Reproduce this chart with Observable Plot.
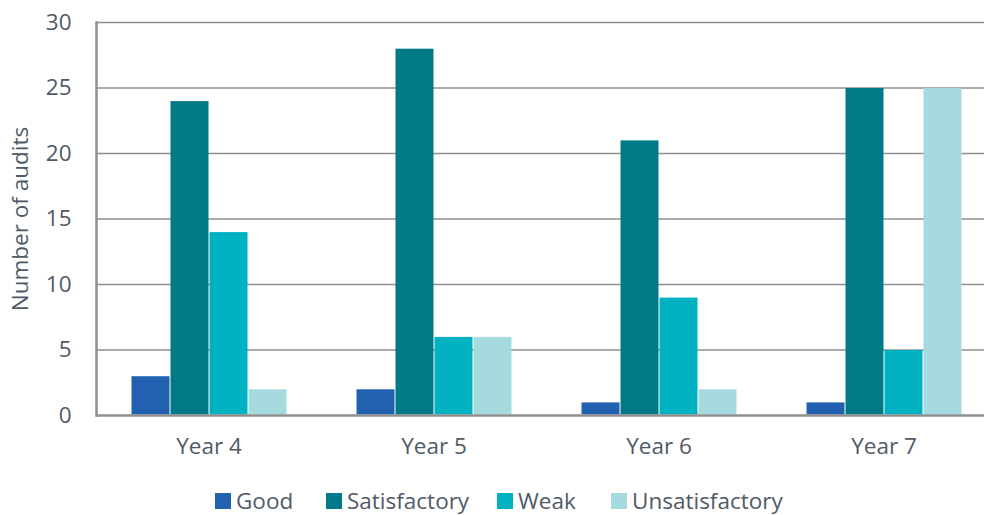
<!DOCTYPE html>
<html>
<head>
<meta charset="utf-8">
<script src="https://cdn.jsdelivr.net/npm/d3@7"></script>
<script src="https://cdn.jsdelivr.net/npm/@observablehq/plot@0.6"></script>
<style>
  html, body { margin: 0; padding: 0; background: #fff; }
  body { width: 984px; height: 515px; overflow: hidden; font-family: "Open Sans", sans-serif; position: relative; }
  #chart { width: 984px; overflow: hidden; height: 470px; }
  #chart svg { max-width: none !important; }
  #legend { position: absolute; left: 0; top: 489px; width: 984px; height: 24px;
            font-size: 22.5px; color: #505a66; line-height: 24px; white-space: nowrap; }
  .item { position: absolute; top: 0; display: flex; align-items: center; gap: 5px; height: 24px; }
  .sw { width: 16px; height: 16px; display: inline-block; }
</style>
</head>
<body>
<div id="chart"></div>
<div id="legend"></div>
<script>
const years = ["Year 4", "Year 5", "Year 6", "Year 7"];
const ratings = ["Good", "Satisfactory", "Weak", "Unsatisfactory"];
const good = [3, 2, 1, 1];
const satisfactory = [24, 28, 21, 25];
const weak = [14, 6, 9, 5];
const unsatisfactory = [2, 6, 2, 25];
const colors = ["#2161B0", "#007A87", "#00B2C1", "#A5DBDE"];
const yTicks = [0, 5, 10, 15, 20, 25, 30];
const legendLeft = [215, 326, 497, 611];

const series = [good, satisfactory, weak, unsatisfactory];
const data = [];
years.forEach((yr, i) => ratings.forEach((r, j) => data.push({year: yr, rating: r, value: series[j][i]})));

const textColor = "#505a66";
const gridColor = "#8f8f8f";

const chart = Plot.plot({
  width: 996,
  height: 470,
  marginTop: 22,
  marginBottom: 55,
  marginLeft: 95,
  marginRight: 0,
  style: {fontFamily: "Open Sans, sans-serif", fontSize: "22px", color: textColor, background: "#fff"},
  fx: {domain: years, padding: 0, label: null},
  x: {domain: ratings, paddingInner: 0, paddingOuter: 0.85, axis: null},
  y: {domain: [0, 30], label: null},
  color: {domain: ratings, range: colors},
  marks: [
    Plot.ruleY(yTicks.slice(1), {stroke: gridColor, strokeWidth: 1.5}),
    Plot.barY(data, {fx: "year", x: "rating", y: "value", fill: "rating", inset: 0.5}),
    Plot.ruleY([0], {stroke: gridColor, strokeWidth: 2.5}),
    Plot.frame({anchor: "left", facetAnchor: "left", stroke: gridColor, strokeWidth: 2.5}),
    Plot.axisY({ticks: yTicks, tickSize: 0, tickPadding: 25, label: "Number of audits",
      labelAnchor: "center", labelArrow: "none", labelOffset: 84, fontSize: 22.5}),
    Plot.axisFx({anchor: "bottom", tickSize: 0, tickPadding: 23, fontSize: 22.5, label: null})
  ]
});
document.getElementById("chart").appendChild(chart);

const legend = document.getElementById("legend");
ratings.forEach((r, i) => {
  const it = document.createElement("div");
  it.className = "item";
  it.style.left = legendLeft[i] + "px";
  it.innerHTML = `<span class="sw" style="background:${colors[i]}"></span><span>${r}</span>`;
  legend.appendChild(it);
});
</script>
</body>
</html>
